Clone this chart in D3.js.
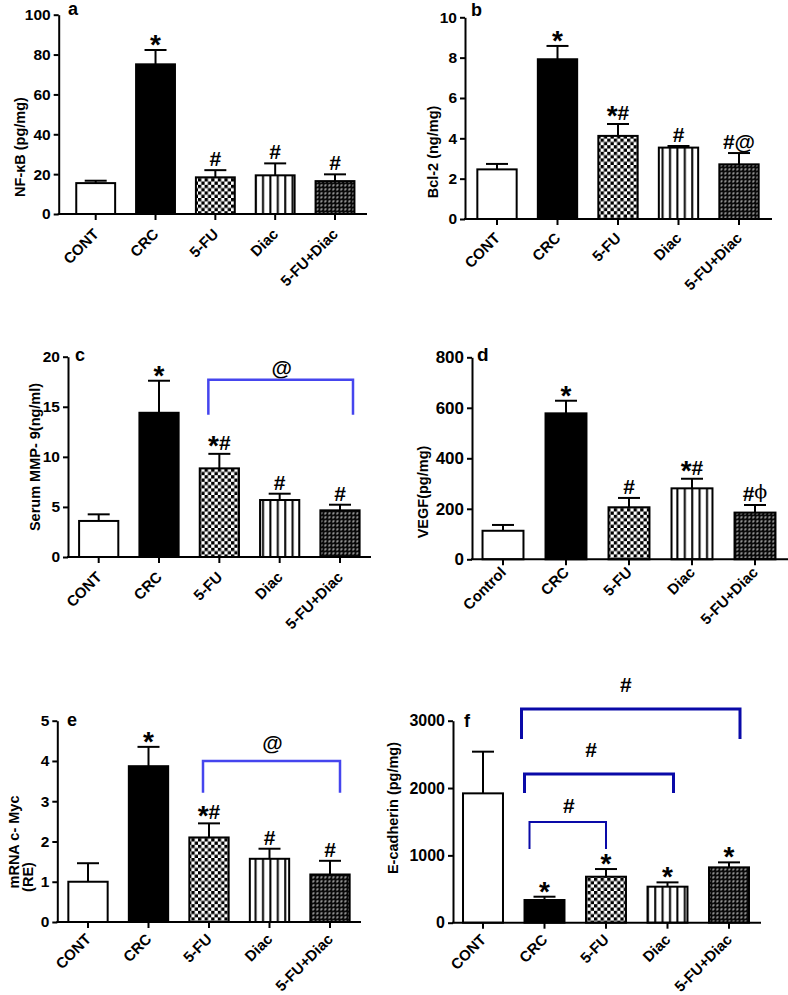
<!DOCTYPE html>
<html><head><meta charset="utf-8">
<script src="https://cdn.jsdelivr.net/npm/d3@7"></script>
<style>
body{margin:0;background:#fff}
text{font-family:"Liberation Sans",Arial,Helvetica,sans-serif;font-weight:bold;fill:#000}
</style>
</head><body>
<svg id="c" width="788" height="995"></svg>
<script>
// ---------------- DATA ----------------
const groupsCont = ["CONT","CRC","5-FU","Diac","5-FU+Diac"];
const groupsCtrl = ["Control","CRC","5-FU","Diac","5-FU+Diac"];

const nfkbMean = [15.5, 75.1, 18.4, 19.4, 16.5];
const nfkbSem  = [1.2, 7.2, 3.6, 6.0, 3.4];
const nfkbSig  = ["", "*", "#", "#", "#"];

const bcl2Mean = [2.46, 7.92, 4.12, 3.54, 2.71];
const bcl2Sem  = [0.27, 0.66, 0.59, 0.08, 0.56];
const bcl2Sig  = ["", "*", "*#", "#", "#@"];

const mmp9Mean = [3.6, 14.4, 8.85, 5.69, 4.66];
const mmp9Sem  = [0.66, 3.2, 1.45, 0.63, 0.56];
const mmp9Sig  = ["", "*", "*#", "#", "#"];

const vegfMean = [113, 578, 206, 281, 185];
const vegfSem  = [23, 50, 37, 38, 30];
const vegfSig  = ["", "*", "#", "*#", "#\u03D5"];

const mycMean = [1.0, 3.87, 2.10, 1.57, 1.18];
const mycSem  = [0.46, 0.48, 0.35, 0.25, 0.34];
const mycSig  = ["", "*", "*#", "#", "#"];

const ecadMean = [1921, 337, 683, 535, 822];
const ecadSem  = [619, 49, 114, 64, 74];
const ecadSig  = ["", "*", "*", "*", "*"];

const ticksA = [0, 20, 40, 60, 80, 100];
const ticksB = [0, 2, 4, 6, 8, 10];
const ticksC = [0, 5, 10, 15, 20];
const ticksD = [0, 200, 400, 600, 800];
const ticksE = [0, 1, 2, 3, 4, 5];
const ticksF = [0, 1000, 2000, 3000];

// brackets: from group, to group, top value, leg-end value, label
const bracketsC = [{from:"5-FU", to:"5-FU+Diac", top:17.7, leg:14.2, label:"@"}];
const bracketsE = [{from:"5-FU", to:"5-FU+Diac", top:4.0, leg:3.21, label:"@"}];
const bracketsF = [
  {from:"CRC", to:"5-FU+Diac", top:3175, leg:2730, label:"#"},
  {from:"CRC", to:"Diac", top:2210, leg:1927, label:"#"},
  {from:"CRC", to:"5-FU", top:1497, leg:1096, label:"#"}
];

const fills = ["#fff", "#000", "url(#checker)", "url(#stripes)", "url(#combo)"];

// ---------------- DRAW ----------------
const svg = d3.select("#c");
const defs = svg.append("defs");
const ck = defs.append("pattern").attr("id","checker").attr("patternUnits","userSpaceOnUse").attr("width",6.6).attr("height",6.6);
ck.append("rect").attr("width",6.6).attr("height",6.6).attr("fill","#fff");
ck.append("rect").attr("width",3.3).attr("height",3.3).attr("fill","#000");
ck.append("rect").attr("x",3.3).attr("y",3.3).attr("width",3.3).attr("height",3.3).attr("fill","#000");
const st = defs.append("pattern").attr("id","stripes").attr("patternUnits","userSpaceOnUse").attr("width",7.4).attr("height",10);
st.append("rect").attr("width",7.4).attr("height",10).attr("fill","#fff");
st.append("rect").attr("x",3).attr("width",2).attr("height",10).attr("fill","#000");
const cb = defs.append("pattern").attr("id","combo").attr("patternUnits","userSpaceOnUse").attr("width",4).attr("height",4);
cb.append("rect").attr("width",4).attr("height",4).attr("fill","#0a0a0a");
cb.append("rect").attr("x",0.6).attr("y",0.6).attr("width",2).attr("height",0.8).attr("fill","#fff");
cb.append("rect").attr("x",0.6).attr("y",1.4).attr("width",0.8).attr("height",1.2).attr("fill","#fff");

function sigText(g, s, cx, baseY) {
  const t = g.append("text").attr("x",cx).attr("y",baseY)
    .attr("text-anchor","middle").style("font-size","21px");
  const shift = (s === "*") ? 8 : 5.5;
  let cur = 0;
  for (const ch of s) {
    const sp = t.append("tspan").text(ch);
    let want = 0;
    if (ch === "*") { sp.style("font-size","28px"); want = shift; }
    else if (ch === "\u03D5") {
      sp.style("font-weight","normal").style("font-family","DejaVu Serif, serif").style("font-size","19px");
      want = -3;
    }
    if (want !== cur) { sp.attr("dy", want - cur); cur = want; }
  }
}

function panel(c) {
  const g = svg.append("g");
  const step = (c.cLast - c.cFirst) / (c.cats.length - 1);
  const x = d3.scaleBand().domain(c.cats)
    .range([c.cFirst - step/2, c.cLast + step/2])
    .paddingInner(0.35).paddingOuter(0.175);
  const y = d3.scaleLinear().domain([0, c.ticks[c.ticks.length-1]]).range([c.yBot, c.yTop]);

  // bars
  g.selectAll("rect.bar").data(c.mean).join("rect")
    .attr("x", (d,i) => x(c.cats[i]))
    .attr("y", d => y(d))
    .attr("width", x.bandwidth())
    .attr("height", d => y(0) - y(d))
    .attr("fill", (d,i) => fills[i])
    .attr("stroke", "#000").attr("stroke-width", 2);

  // error bars (upper only)
  c.mean.forEach((m,i) => {
    const cx = x(c.cats[i]) + x.bandwidth()/2;
    const top = y(m + c.sem[i]);
    g.append("line").attr("x1",cx).attr("x2",cx).attr("y1",y(m)).attr("y2",top)
      .attr("stroke","#000").attr("stroke-width",2);
    g.append("line").attr("x1",cx-11).attr("x2",cx+11).attr("y1",top).attr("y2",top)
      .attr("stroke","#000").attr("stroke-width",2);
    if (c.sig[i]) sigText(g, c.sig[i], cx, top - 4);
  });

  // axes
  const ya = d3.axisLeft(y).tickValues(c.ticks).tickFormat(d3.format("d"))
    .tickSize(5).tickSizeOuter(0).tickPadding(3);
  const yg = g.append("g").attr("transform",`translate(${c.x0},0)`).call(ya);
  yg.attr("font-family", null).attr("font-size", null);
  yg.selectAll("path,line").attr("stroke","#000").attr("stroke-width",2);
  yg.selectAll("text").style("font-size", c.tickFont + "px");

  const xa = d3.axisBottom(x).tickSize(6).tickSizeOuter(0).tickFormat(() => "");
  const xg = g.append("g").attr("transform",`translate(0,${c.yBot})`).call(xa);
  xg.select("path.domain").remove();
  xg.selectAll("line").attr("stroke","#000").attr("stroke-width",2);
  g.append("line").attr("x1",c.x0-1).attr("x2",c.x1).attr("y1",c.yBot).attr("y2",c.yBot)
    .attr("stroke","#000").attr("stroke-width",2);

  c.cats.forEach((cat) => {
    const cx = x(cat) + x.bandwidth()/2;
    g.append("text").attr("transform",`translate(${cx+4},${c.yBot+c.labOff}) rotate(-45)`)
      .attr("text-anchor","end").style("font-size","15px").text(cat);
  });

  // y title
  c.ytitle.forEach(t => {
    g.append("text").attr("transform",`translate(${t.x},${t.y}) rotate(-90)`)
      .attr("text-anchor","middle").attr("dy","0.36em").style("font-size","14.5px").text(t.text);
  });

  // panel letter
  g.append("text").attr("x",c.letter.x).attr("y",c.letter.y).style("font-size",c.letter.size+"px").text(c.letter.t);

  // brackets
  (c.brackets || []).forEach((b,k) => {
    const bx0 = x(b.from) + x.bandwidth()/2 + c.bOff[k][0];
    const bx1 = x(b.to) + x.bandwidth()/2 + c.bOff[k][1];
    g.append("path").attr("d",`M${bx0},${y(b.leg)}V${y(b.top)}H${bx1}V${y(b.leg)}`)
      .attr("fill","none").attr("stroke",c.bColor).attr("stroke-width",c.bWidth[k]);
    g.append("text").attr("x",(bx0+bx1)/2 + c.bOff[k][2]).attr("y",y(b.top)-c.bOff[k][3])
      .attr("text-anchor","middle").style("font-size","21px").text(b.label);
  });
}

panel({cats:groupsCont, mean:nfkbMean, sem:nfkbSem, sig:nfkbSig, ticks:ticksA,
  x0:58.7, x1:367, yTop:14.7, yBot:214, cFirst:95.7, cLast:335, tickFont:15.5, labOff:21,
  ytitle:[{x:20,y:147,text:"NF-\u03BAB (pg/mg)"}], letter:{x:68,y:15,size:18,t:"a"}});

panel({cats:groupsCont, mean:bcl2Mean, sem:bcl2Sem, sig:bcl2Sig, ticks:ticksB,
  x0:465, x1:772, yTop:17.3, yBot:219, cFirst:497, cLast:739, tickFont:15.5, labOff:20,
  ytitle:[{x:433,y:152,text:"Bcl-2 (ng/mg)"}], letter:{x:471,y:16,size:18,t:"b"}});

panel({cats:groupsCont, mean:mmp9Mean, sem:mmp9Sem, sig:mmp9Sig, ticks:ticksC,
  x0:68, x1:371, yTop:356.7, yBot:557, cFirst:98.7, cLast:340, tickFont:15.5, labOff:21,
  ytitle:[{x:35,y:457,text:"Serum MMP- 9(ng/ml)"}], letter:{x:75,y:361,size:18,t:"c"},
  brackets:bracketsC, bColor:"#4545ee", bWidth:[2.5], bOff:[[-11,13,1,5]]});

panel({cats:groupsCtrl, mean:vegfMean, sem:vegfSem, sig:vegfSig, ticks:ticksD,
  x0:472, x1:788, yTop:357.3, yBot:559.3, cFirst:503, cLast:755, tickFont:17, labOff:14,
  ytitle:[{x:423,y:492,text:"VEGF(pg/mg)"}], letter:{x:477,y:361,size:19,t:"d"}});

panel({cats:groupsCont, mean:mycMean, sem:mycSem, sig:mycSig, ticks:ticksE,
  x0:57.3, x1:361, yTop:720.7, yBot:922, cFirst:88, cLast:330, tickFont:15.5, labOff:18,
  ytitle:[{x:14,y:842,text:"mRNA c- Myc"},{x:28,y:877,text:"(RE)"}], letter:{x:67,y:726,size:18,t:"e"},
  brackets:bracketsE, bColor:"#4545ee", bWidth:[2.5], bOff:[[-6,10,1,11]]});

panel({cats:groupsCont, mean:ecadMean, sem:ecadSem, sig:ecadSig, ticks:ticksF,
  x0:453, x1:761, yTop:720.7, yBot:922.7, cFirst:483, cLast:729, tickFont:16, labOff:18,
  ytitle:[{x:393,y:808,text:"E-cadherin (pg/mg)"}], letter:{x:464,y:727,size:18,t:"f"},
  brackets:bracketsF, bColor:"#0a0aa8", bWidth:[3,3,2], bOff:[[-23,11,-5,17],[-20,6,-8,17],[-15,0,1,9]]});
</script>
</body></html>
